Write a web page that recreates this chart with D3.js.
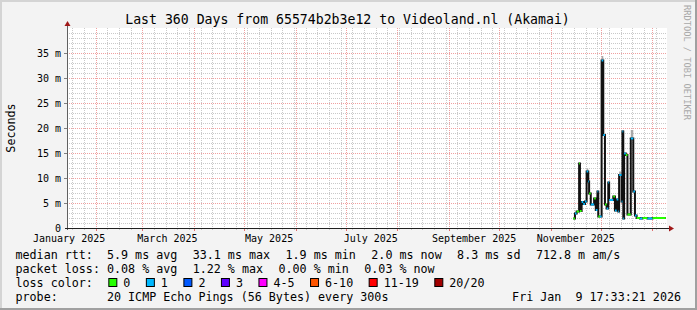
<!DOCTYPE html>
<html>
<head>
<meta charset="utf-8">
<script src="https://cdn.jsdelivr.net/npm/d3@7"></script>
<style>
  body { margin: 0; background: #f3f3f3; }
  svg { display: block; }
  text { font-family: "DejaVu Sans Mono", monospace; fill: #000; white-space: pre; }
</style>
</head>
<body>
<svg id="chart" width="697" height="310"></svg>
<script>
// ---- data ----
var title = "Last 360 Days from 65574b2b3e12 to Videoland.nl (Akamai)";
var endTime = "2026-01-09T17:33:21Z";
var spanDays = 360;

// step samples: value holds until the next date
var sampleDates = [
  "2025-11-14T12:00Z", "2025-11-15T12:00Z", "2025-11-16T12:00Z", "2025-11-18T00:00Z",
  "2025-11-18T12:00Z", "2025-11-19T12:00Z", "2025-11-20T12:00Z", "2025-11-21T12:00Z",
  "2025-11-22T12:00Z", "2025-11-23T12:00Z", "2025-11-24T00:00Z", "2025-11-25T00:00Z",
  "2025-11-27T00:00Z", "2025-11-28T00:00Z", "2025-11-29T00:00Z", "2025-11-29T12:00Z",
  "2025-11-30T12:00Z", "2025-12-01T12:00Z", "2025-12-02T12:00Z", "2025-12-03T12:00Z",
  "2025-12-04T12:00Z", "2025-12-05T12:00Z", "2025-12-06T00:00Z", "2025-12-08T12:00Z",
  "2025-12-09T12:00Z", "2025-12-10T12:00Z", "2025-12-11T12:00Z", "2025-12-12T00:00Z",
  "2025-12-13T12:00Z", "2025-12-14T00:00Z", "2025-12-14T12:00Z", "2025-12-15T00:00Z",
  "2025-12-16T00:00Z", "2025-12-17T00:00Z", "2025-12-19T00:00Z", "2025-12-20T12:00Z",
  "2025-12-21T12:00Z", "2025-12-22T12:00Z", "2025-12-24T12:00Z", "2025-12-26T00:00Z",
  "2025-12-29T00:00Z", "2026-01-01T00:00Z"
];
var lastSampleEnd = "2026-01-09T00:00Z";
// median rtt in ms
var medianMs = [
  1.9, 2.9, 3.3, 12.9,
  3.4, 5.2, 4.8, 5.3,
  11.3, 9.3, 6.9, 4.7,
  5.9, 3.6, 7.3, 2.3,
  2.3, 33.5, 18.6, 4.7,
  3.9, 9.1, 5.6, 6.3,
  3.5, 5.7, 3.3, 10.6,
  5.3, 19.3, 1.9, 14.9,
  14.6, 2.7, 17.9, 7.3,
  2.5, 2.0, 1.9, 2.0,
  1.9, 2.0
];
// lost pings out of 20
var lossPings = [
  0, 1, 0, 0,
  0, 1, 1, 1,
  1, 1, 0, 1,
  0, 1, 1, 0,
  1, 1, 1, 0,
  1, 1, 1, 0,
  1, 1, 1, 1,
  1, 1, 1, 1,
  0, 0, 1, 1,
  1, 0, 1, 0,
  1, 0
];
// top of the light smoke, ms (null = none)
var smokeMs = [
  null, null, null, null,
  null, null, null, null,
  11.9, null, null, null,
  null, null, null, null,
  null, 34.4, null, null,
  null, null, null, null,
  null, null, null, 11.3,
  null, 19.6, null, null,
  null, null, 19.6, null,
  null, null, null, null,
  null, null
];

var yTicks = [0, 5, 10, 15, 20, 25, 30, 35];
var yTickLabels = ["0", "5 m", "10 m", "15 m", "20 m", "25 m", "30 m", "35 m"];
var xLabelMonths = ["2025-01-01", "2025-03-01", "2025-05-01", "2025-07-01", "2025-09-01", "2025-11-01"];
var xLabels = ["January 2025", "March 2025", "May 2025", "July 2025", "September 2025", "November 2025"];

var lossLimits = [0, 1, 2, 3, 5, 10, 19, 20];
var lossLabels = ["0", "1", "2", "3", "4-5", "6-10", "11-19", "20/20"];
var lossColors = ["#26ff00", "#00b8ff", "#0059ff", "#5e00ff", "#ff00ff", "#ff5500", "#ff0000", "#a10000"];

var legendRtt = ["median rtt:  5.9 ms avg", "33.1 ms max", "1.9 ms min", "2.0 ms now", "8.3 ms sd", "712.8 m am/s"];
var legendLoss = ["packet loss: 0.08 % avg", "1.22 % max", "0.00 % min", "0.03 % now"];
var legendProbe = "probe:       20 ICMP Echo Pings (56 Bytes) every 300s";
var stamp = "Fri Jan  9 17:33:21 2026";

(function() {
  // ---- layout ----
  var W = 697, H = 310,
      pLeft = 67, pTop = 28, plotW = 600, plotH = 200,
      pBottom = pTop + plotH, pRight = pLeft + plotW;

  var svg = d3.select("#chart");

  var end = new Date(endTime),
      start = new Date(end.getTime() - spanDays * 864e5);

  var x = d3.scaleUtc().domain([start, end]).range([pLeft, pRight]);
  var y = d3.scaleLinear().domain([0, 40]).range([pBottom, pTop]);

  // background + 3d frame
  svg.append("rect").attr("width", W).attr("height", H).attr("fill", "#f3f3f3");
  svg.append("path").attr("d", "M0,0H" + W + "V2H2V" + H + "H0Z").attr("fill", "#d4d4d4");
  svg.append("path").attr("d", "M" + W + ",0V" + H + "H0V" + (H - 2) + "H" + (W - 2) + "V0Z").attr("fill", "#a0a0a0");

  // canvas
  svg.append("rect").attr("x", pLeft).attr("y", pTop).attr("width", plotW).attr("height", plotH).attr("fill", "#fff");

  var grid = svg.append("g").attr("shape-rendering", "crispEdges");

  // minor horizontal grid (every 1 ms)
  d3.range(1, 40).filter(function(v) { return v % 5 !== 0; }).forEach(function(v) {
    var yy = Math.round(y(v)) + 0.5;
    grid.append("line").attr("x1", pLeft).attr("x2", pRight).attr("y1", yy).attr("y2", yy)
      .attr("stroke", "#c9c9c9").attr("stroke-dasharray", "1,1");
  });
  // minor vertical grid (weekly)
  d3.utcSaturday.range(start, end).forEach(function(d) {
    var xx = Math.round(x(d)) + 0.5;
    grid.append("line").attr("x1", xx).attr("x2", xx).attr("y1", pTop).attr("y2", pBottom)
      .attr("stroke", "#c9c9c9").attr("stroke-dasharray", "1,1");
    grid.append("line").attr("x1", xx).attr("x2", xx).attr("y1", pBottom).attr("y2", pBottom + 2)
      .attr("stroke", "#c9c9c9");
  });
  // major horizontal grid
  yTicks.filter(function(v) { return v > 0; }).forEach(function(v) {
    var yy = Math.round(y(v)) + 0.5;
    grid.append("line").attr("x1", pLeft).attr("x2", pRight).attr("y1", yy).attr("y2", yy)
      .attr("stroke", "#f0a0a0").attr("stroke-dasharray", "1,1");
    grid.append("line").attr("x1", pLeft - 3).attr("x2", pLeft).attr("y1", yy).attr("y2", yy)
      .attr("stroke", "#808080");
  });
  // major vertical grid (monthly)
  d3.utcMonth.range(start, end).forEach(function(d) {
    var xx = Math.round(x(d)) + 0.5;
    grid.append("line").attr("x1", xx).attr("x2", xx).attr("y1", pTop).attr("y2", pBottom)
      .attr("stroke", "#f0a0a0").attr("stroke-dasharray", "1,1");
    grid.append("line").attr("x1", xx).attr("x2", xx).attr("y1", pBottom).attr("y2", pBottom + 3)
      .attr("stroke", "#e07070");
  });

  // ---- data ----
  var pts = sampleDates.map(function(s, i) {
    return {
      t0: new Date(s),
      t1: new Date(i + 1 < sampleDates.length ? sampleDates[i + 1] : lastSampleEnd),
      med: medianMs[i], loss: lossPings[i], smoke: smokeMs[i]
    };
  });

  function lossColor(n) {
    for (var i = 0; i < lossLimits.length; i++) if (n <= lossLimits[i]) return lossColors[i];
    return lossColors[lossColors.length - 1];
  }

  var plot = svg.append("g");

  // smoke above the median
  plot.selectAll("rect.smoke").data(pts.filter(function(d) { return d.smoke != null; }))
    .enter().append("rect").attr("class", "smoke")
    .attr("x", function(d) { return x(d.t0); })
    .attr("width", function(d) { return Math.max(1.5, x(d.t1) - x(d.t0)); })
    .attr("y", function(d) { return y(d.smoke); })
    .attr("height", function(d) { return y(d.med) - y(d.smoke); })
    .attr("fill", "#a8a8a8");

  // black step line of the median
  var stepPts = pts.map(function(d) { return [x(d.t0), y(d.med)]; });
  stepPts.push([x(pts[pts.length - 1].t1), y(pts[pts.length - 1].med)]);
  plot.append("path")
    .attr("d", d3.line().curve(d3.curveStepAfter)(stepPts))
    .attr("fill", "none").attr("stroke", "#111").attr("stroke-width", 2);

  // loss coloured median pieces
  plot.selectAll("line.med").data(pts).enter().append("line").attr("class", "med")
    .attr("x1", function(d) { return x(d.t0); })
    .attr("x2", function(d) { return x(d.t1); })
    .attr("y1", function(d) { return y(d.med); })
    .attr("y2", function(d) { return y(d.med); })
    .attr("stroke", function(d) { return lossColor(d.loss); })
    .attr("stroke-width", 2);

  // ---- axes ----
  svg.append("line").attr("x1", pLeft + 0.5).attr("x2", pLeft + 0.5).attr("y1", pTop - 4).attr("y2", pBottom + 2)
    .attr("stroke", "#606060");
  svg.append("line").attr("x1", pLeft - 2).attr("x2", pRight + 3).attr("y1", pBottom + 0.5).attr("y2", pBottom + 0.5)
    .attr("stroke", "#202020");
  svg.append("path").attr("d", "M" + (pLeft + 0.5) + "," + (pTop - 7) + "L" + (pLeft + 3.5) + "," + (pTop - 2) + "L" + (pLeft - 2.5) + "," + (pTop - 2) + "Z")
    .attr("fill", "#a01818");
  svg.append("path").attr("d", "M" + (pRight + 7) + "," + (pBottom + 0.5) + "L" + (pRight + 2) + "," + (pBottom - 2.5) + "L" + (pRight + 2) + "," + (pBottom + 3.5) + "Z")
    .attr("fill", "#a01818");

  // y labels
  yTicks.forEach(function(v, i) {
    svg.append("text").attr("x", 61).attr("y", y(v) + 3.5).attr("text-anchor", "end")
      .style("font-size", "10px").text(yTickLabels[i]);
  });
  // x labels centred on mid-month
  xLabelMonths.forEach(function(m, i) {
    var d = new Date(m + "T00:00Z");
    svg.append("text").attr("x", x(d3.utcDay.offset(d, 15))).attr("y", 241.5).attr("text-anchor", "middle")
      .style("font-size", "10px").text(xLabels[i]);
  });

  // title, axis title, watermark
  svg.append("text").attr("x", 347.5).attr("y", 23.5).attr("text-anchor", "middle")
    .style("font-size", "13.2px").text(title);
  svg.append("text").attr("transform", "translate(14.5," + (pTop + plotH / 2) + ") rotate(-90)")
    .attr("text-anchor", "middle").style("font-size", "11.7px").text("Seconds");
  svg.append("text").attr("transform", "translate(684,5) rotate(90)")
    .style("font-size", "8.7px").style("fill", "#a8a8a8").text("RRDTOOL / TOBI OETIKER");

  // ---- legend ----
  var cw = 7.03, gap = 15.5, lx = 15.5;
  function legendRow(items, yb) {
    var xx = lx;
    items.forEach(function(t) {
      svg.append("text").attr("x", xx).attr("y", yb).style("font-size", "11.7px").text(t);
      xx += t.length * cw + gap;
    });
  }
  legendRow(legendRtt, 258.5);
  legendRow(legendLoss, 272.5);

  var lxx = lx;
  svg.append("text").attr("x", lxx).attr("y", 286.5).style("font-size", "11.7px").text("loss color:");
  lxx += 11 * cw + gap;
  lossLabels.forEach(function(lab, i) {
    svg.append("rect").attr("x", lxx + 0.5).attr("y", 278.5).attr("width", 8).attr("height", 8)
      .attr("fill", lossColors[i]).attr("stroke", "#000").attr("stroke-width", 1);
    svg.append("text").attr("x", lxx + 15).attr("y", 286.5).style("font-size", "11.7px").text(lab);
    lxx += 15 + lab.length * cw + gap;
  });

  svg.append("text").attr("x", lx).attr("y", 300.5).style("font-size", "11.7px").text(legendProbe);
  svg.append("text").attr("x", 681).attr("y", 300.5).attr("text-anchor", "end").style("font-size", "11.7px").text(stamp);
})();
</script>
</body>
</html>
